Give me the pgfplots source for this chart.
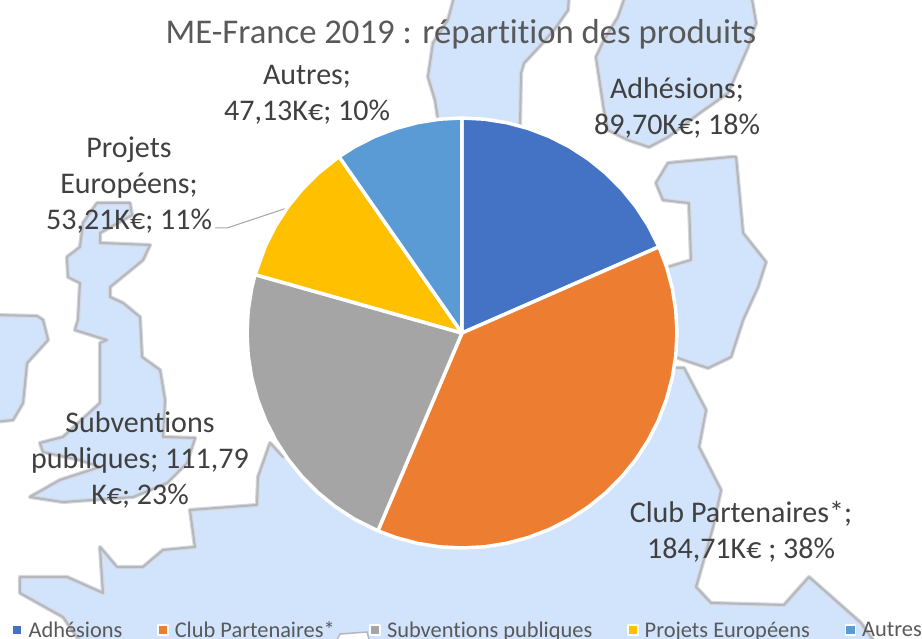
\documentclass[border=0pt]{standalone}
\usepackage{pgfplots}
\pgfplotsset{compat=1.18}
\usepgfplotslibrary{polar}
\usepackage{fontspec}
\setmainfont[Ligatures=NoCommon]{Carlito}
\definecolor{cadh}{HTML}{4472C4}
\definecolor{cclub}{HTML}{ED7D31}
\definecolor{csub}{HTML}{A5A5A5}
\definecolor{cproj}{HTML}{FFC000}
\definecolor{caut}{HTML}{5B9BD5}
\definecolor{landblue}{HTML}{D2E3FC}
\definecolor{edgeout}{HTML}{D5D9DF}
\definecolor{edgein}{HTML}{B4B8BE}
\definecolor{txt}{HTML}{404040}
\definecolor{ttl}{HTML}{595959}
\newcommand\landshape[1]{%
  \addplot[draw=edgeout,line width=4.2pt,line join=round,fill=landblue] coordinates {#1} --cycle;
  \addplot[draw=edgein,line width=2pt,line join=round] coordinates {#1} --cycle;
}
\begin{document}
\begin{tikzpicture}[x=1pt,y=1pt]
\useasboundingbox (0,0) rectangle (922,639);
\clip (0,0) rectangle (922,639);
% map behind the chart, in pixels of the picture
\begin{axis}[at={(0,0)},anchor=south west,scale only axis,width=922pt,height=639pt,
  xmin=0,xmax=922,ymin=0,ymax=639,y dir=reverse,hide axis,clip=false]
\landshape{(455,-6)(448,20)(433,43)(428,77)(435,100)(439,125)(520,125)(521,73)(524,63)(539,47)(554,30)(568,10)(569,-6)}
\landshape{(626,-6)(618,17)(604,40)(596,57)(599,77)(604,110)(608,130)(628,140)(649,147)(668,137)(701,112)(728,93)(738,70)(748,47)(756,23)(751,-6)}
\landshape{(668,163)(731,157)(736,157)(743,233)(766,262)(758,287)(743,320)(731,357)(708,368)(678,358)(640,320)(668,267)(691,260)(689,203)(663,200)(656,183)}
\landshape{(678,368)(684,368)(706,410)(699,447)(721,490)(713,527)(696,587)(711,603)(784,605)(809,577)(861,623)(880,650)(86,650)(63,617)(20,593)(20,577)(67,577)(103,593)(100,547)(117,567)(143,567)(163,550)(195,547)(190,510)(257,505)(258,477)(270,443)(283,457)(462,333)}
\landshape{(97,203)(130,203)(132,215)(100,233)(100,243)(150,245)(143,260)(110,287)(110,297)(123,303)(140,317)(142,357)(160,370)(165,400)(163,437)(195,438)(187,463)(167,483)(133,497)(63,502)(30,497)(60,480)(100,467)(80,460)(43,452)(40,443)(63,437)(100,403)(100,343)(107,340)(75,330)(78,320)(80,283)(68,277)(67,257)(80,247)(83,223)}
\landshape{(-6,315)(37,316)(43,320)(48,340)(27,363)(23,403)(13,420)(-6,422)}
\addplot[fill=white,draw=edgein,line width=1.5pt] coordinates {(332,650)(340,634)(367,632)(372,650)} --cycle;
\draw[gray!70,line width=1pt] (axis cs:215,228) -- (axis cs:227,228) -- (axis cs:287,208);
\node[text=ttl,font=\fontsize{34.7}{40}\selectfont] at (axis cs:461,34) {ME-France 2019 : répartition des produits};
\begin{scope}[every node/.style={text=txt,align=center,font=\fontsize{30}{36}\selectfont}]
\node at (axis cs:307,95) {Autres;\\47,13K€; 10\%};
\node at (axis cs:677,108) {Adhésions;\\89,70K€; 18\%};
\node at (axis cs:129,185) {Projets\\Européens;\\53,21K€; 11\%};
\node at (axis cs:140,460) {Subventions\\publiques; 111,79\\K€; 23\%};
\node at (axis cs:741,532) {Club Partenaires*;\\184,71K€ ; 38\%};
\end{scope}
\end{axis}
% pie: 89,70 / 184,71 / 111,79 / 53,21 / 47,13 k€, clockwise from the top
\begin{polaraxis}[at={(462pt,306pt)},anchor=center,scale only axis,width=430pt,height=430pt,
  xmin=0,xmax=360,ymin=0,ymax=100,hide axis,clip=false,
  legend columns=-1,
  legend style={at={(-451pt,-308pt)},anchor=south west,draw=none,fill=none,text=ttl,
    font=\fontsize{22.4}{24}\selectfont,inner sep=0pt,outer sep=0pt,
    /tikz/every odd column/.append style={column sep=4pt},
    /tikz/every even column/.append style={column sep=32.7pt}},
  legend image code/.code={\draw[#1,line width=1.6pt] (0pt,-5pt) rectangle (10pt,5pt);}]
\addplot[fill=cadh,draw=white,line width=3.5pt,line join=round] coordinates {(90,0)(90,100)(84,100)(78,100)(72,100)(66,100)(60,100)(54,100)(48,100)(42,100)(36,100)(30,100)(23.63,100)(23.63,0)} --cycle;
\addlegendentry{Adhésions}
\addplot[fill=cclub,draw=white,line width=3.5pt,line join=round] coordinates {(23.63,0)(23.63,100)(18,100)(12,100)(6,100)(0,100)(-6,100)(-12,100)(-18,100)(-24,100)(-30,100)(-36,100)(-42,100)(-48,100)(-54,100)(-60,100)(-66,100)(-72,100)(-78,100)(-84,100)(-90,100)(-96,100)(-102,100)(-108,100)(-113.04,100)(-113.04,0)} --cycle;
\addlegendentry{Club Partenaires*}
\addplot[fill=csub,draw=white,line width=3.5pt,line join=round] coordinates {(-113.04,0)(-113.04,100)(-120,100)(-126,100)(-132,100)(-138,100)(-144,100)(-150,100)(-156,100)(-162,100)(-168,100)(-174,100)(-180,100)(-186,100)(-192,100)(-195.75,100)(-195.75,0)} --cycle;
\addlegendentry{Subventions publiques}
\addplot[fill=cproj,draw=white,line width=3.5pt,line join=round] coordinates {(-195.75,0)(-195.75,100)(-204,100)(-210,100)(-216,100)(-222,100)(-228,100)(-235.12,100)(-235.12,0)} --cycle;
\addlegendentry{Projets Européens}
\addplot[fill=caut,draw=white,line width=3.5pt,line join=round] coordinates {(-235.12,0)(-235.12,100)(-240,100)(-246,100)(-252,100)(-258,100)(-264,100)(-270,100)(-270,0)} --cycle;
\addlegendentry{Autres}
\end{polaraxis}
\end{tikzpicture}
\end{document}
